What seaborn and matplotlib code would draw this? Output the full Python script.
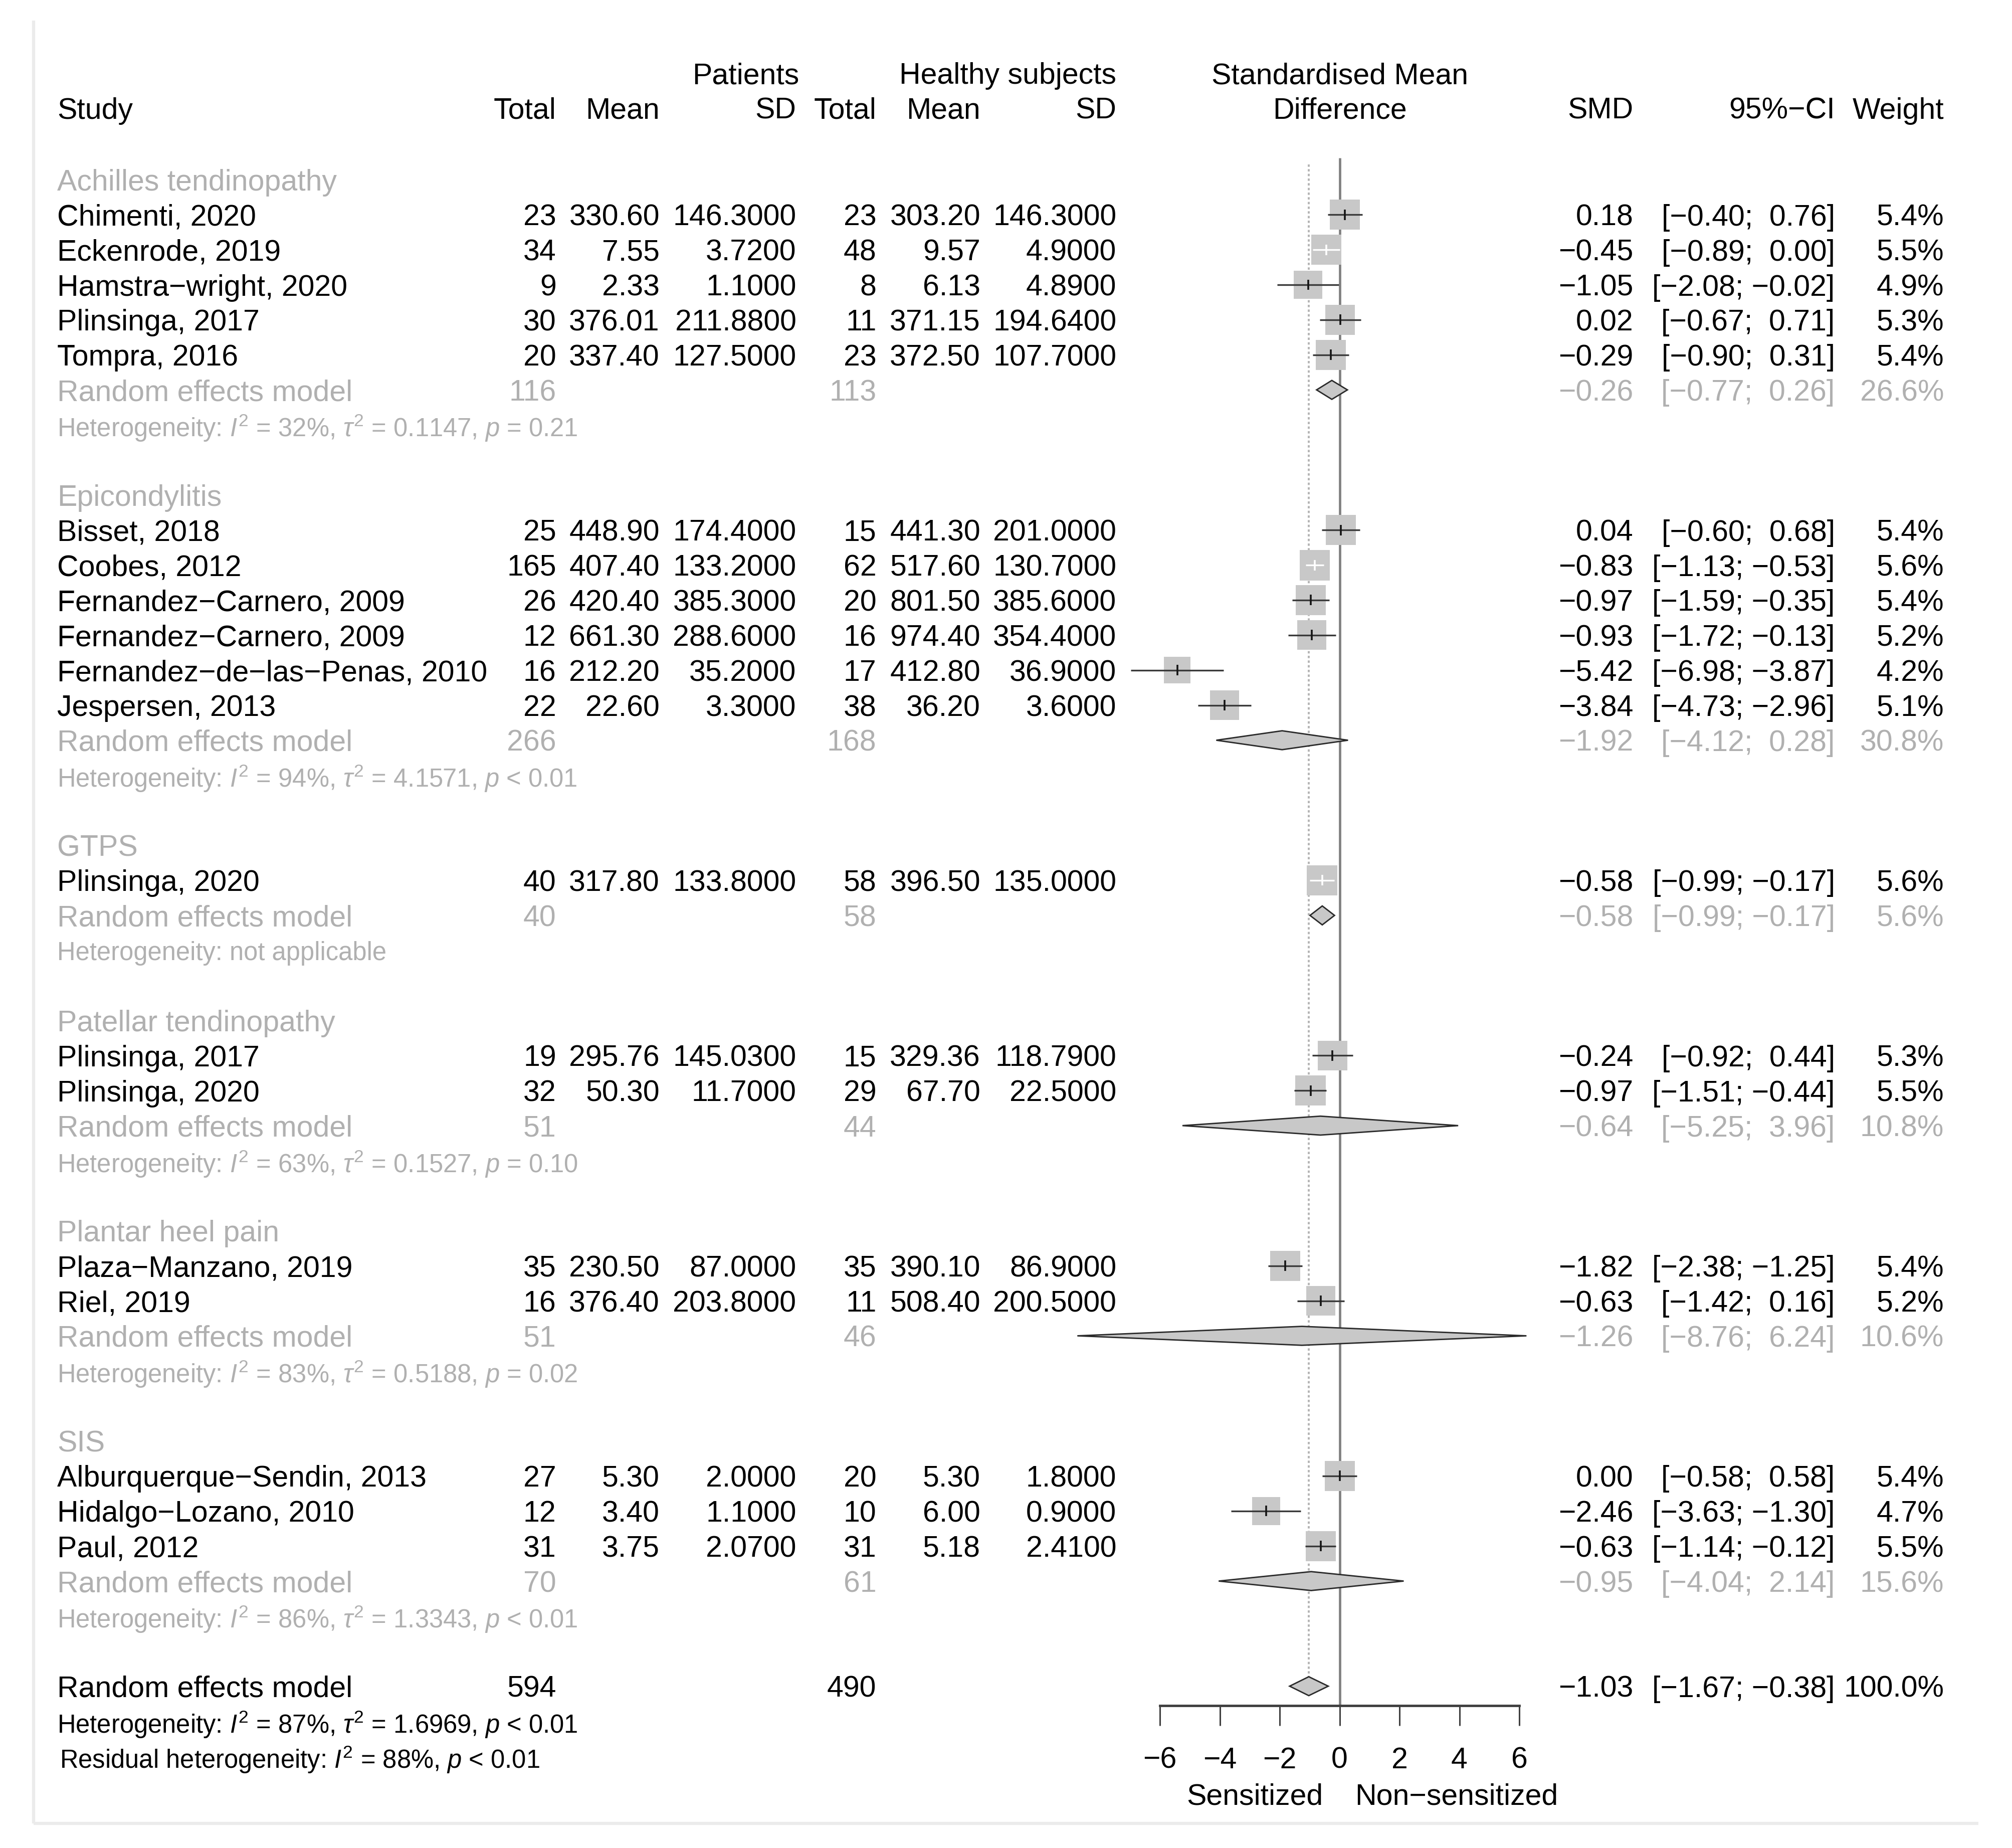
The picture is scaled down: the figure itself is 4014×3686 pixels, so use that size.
import numpy as np
import pandas as pd
import matplotlib.pyplot as plt
import seaborn as sns

# ---- data ----
groups = ["Achilles tendinopathy", "Epicondylitis", "GTPS",
          "Patellar tendinopathy", "Plantar heel pain", "SIS"]

study_group = [0, 0, 0, 0, 0, 1, 1, 1, 1, 1, 1, 2, 3, 3, 4, 4, 5, 5, 5]
study_names = ["Chimenti, 2020", "Eckenrode, 2019", "Hamstra\u2212wright, 2020",
               "Plinsinga, 2017", "Tompra, 2016",
               "Bisset, 2018", "Coobes, 2012", "Fernandez\u2212Carnero, 2009",
               "Fernandez\u2212Carnero, 2009", "Fernandez\u2212de\u2212las\u2212Penas, 2010",
               "Jespersen, 2013",
               "Plinsinga, 2020",
               "Plinsinga, 2017", "Plinsinga, 2020",
               "Plaza\u2212Manzano, 2019", "Riel, 2019",
               "Alburquerque\u2212Sendin, 2013", "Hidalgo\u2212Lozano, 2010", "Paul, 2012"]
pat_n = [23, 34, 9, 30, 20, 25, 165, 26, 12, 16, 22, 40, 19, 32, 35, 16, 27, 12, 31]
pat_mean = [330.60, 7.55, 2.33, 376.01, 337.40, 448.90, 407.40, 420.40, 661.30, 212.20,
            22.60, 317.80, 295.76, 50.30, 230.50, 376.40, 5.30, 3.40, 3.75]
pat_sd = [146.30, 3.72, 1.10, 211.88, 127.50, 174.40, 133.20, 385.30, 288.60, 35.20,
          3.30, 133.80, 145.03, 11.70, 87.00, 203.80, 2.00, 1.10, 2.07]
hs_n = [23, 48, 8, 11, 23, 15, 62, 20, 16, 17, 38, 58, 15, 29, 35, 11, 20, 10, 31]
hs_mean = [303.20, 9.57, 6.13, 371.15, 372.50, 441.30, 517.60, 801.50, 974.40, 412.80,
           36.20, 396.50, 329.36, 67.70, 390.10, 508.40, 5.30, 6.00, 5.18]
hs_sd = [146.30, 4.90, 4.89, 194.64, 107.70, 201.00, 130.70, 385.60, 354.40, 36.90,
         3.60, 135.00, 118.79, 22.50, 86.90, 200.50, 1.80, 0.90, 2.41]
smd = [0.18, -0.45, -1.05, 0.02, -0.29, 0.04, -0.83, -0.97, -0.93, -5.42, -3.84,
       -0.58, -0.24, -0.97, -1.82, -0.63, 0.00, -2.46, -0.63]
ci_lo = [-0.40, -0.89, -2.08, -0.67, -0.90, -0.60, -1.13, -1.59, -1.72, -6.98, -4.73,
         -0.99, -0.92, -1.51, -2.38, -1.42, -0.58, -3.63, -1.14]
ci_hi = [0.76, 0.00, -0.02, 0.71, 0.31, 0.68, -0.53, -0.35, -0.13, -3.87, -2.96,
         -0.17, 0.44, -0.44, -1.25, 0.16, 0.58, -1.30, -0.12]
weight = [5.4, 5.5, 4.9, 5.3, 5.4, 5.4, 5.6, 5.4, 5.2, 4.2, 5.1, 5.6, 5.3, 5.5, 5.4,
          5.2, 5.4, 4.7, 5.5]

sub_pat_n = [116, 266, 40, 51, 51, 70]
sub_hs_n = [113, 168, 58, 44, 46, 61]
sub_smd = [-0.26, -1.92, -0.58, -0.64, -1.26, -0.95]
sub_lo = [-0.77, -4.12, -0.99, -5.25, -8.76, -4.04]
sub_hi = [0.26, 0.28, -0.17, 3.96, 6.24, 2.14]
sub_w = [26.6, 30.8, 5.6, 10.8, 10.6, 15.6]
sub_i2 = ["32%", "94%", None, "63%", "83%", "86%"]
sub_tau2 = ["0.1147", "4.1571", None, "0.1527", "0.5188", "1.3343"]
sub_p = ["= 0.21", "< 0.01", None, "= 0.10", "= 0.02", "< 0.01"]

overall_n = [594, 490]
overall_est = [-1.03, -1.67, -0.38]
overall_w = 100.0
overall_het = ["87%", "1.6969", "< 0.01"]
resid_het = ["88%", "< 0.01"]

xticks = [-6, -4, -2, 0, 2, 4, 6]

# ---- style ----
sns.set_theme(style="white")
plt.rcParams["font.family"] = ["Liberation Sans", "DejaVu Sans"]
plt.rcParams["mathtext.fontset"] = "custom"
plt.rcParams["mathtext.rm"] = "Liberation Sans"
plt.rcParams["mathtext.it"] = "Liberation Sans:italic"
plt.rcParams["mathtext.bf"] = "Liberation Sans:bold"

FS = 42.5
FS_HET = 36.5
GREY = "#b0b0b0"
W, H = 1568, 1440          # layout grid
ROW0, ROWH = 140, 27.3


def ry(py):
    return (py - ROW0) / ROWH


def fmt(v, d=2):
    return f"{v:.{d}f}".replace("-", "\u2212")


def ci_str(lo, hi):
    gap = "  " if hi >= 0 else " "
    return f"[{fmt(lo)};{gap}{fmt(hi)}]"


def het_str(i2, tau2, p):
    return (r"Heterogeneity: $\mathit{I}^{2}$ = " + i2 + r", $\tau^{2}$ = " + tau2
            + r", $\mathit{p}$ " + p)


fig = plt.figure(figsize=(40.14, 36.86), dpi=100)
ax = fig.add_axes([0, 0, 1, 1])
ax.set_xlim(0, W)
ax.set_ylim(ry(H), ry(0))
ax.axis("off")

fx = fig.add_axes([904 / W, 0, 280 / W, 1])
fx.set_xlim(-6, 6)
fx.set_ylim(ry(H), ry(0))
fx.patch.set_visible(False)

# column positions (right edges, layout px)
X_STUDY = 44.5
X_PN, X_PM, X_PSD = 433.5, 514, 620.5
X_HN, X_HM, X_HSD = 683, 764, 870
X_SMD, X_CI, X_W = 1273, 1430, 1515


def t(x, r, s, ha="right", color="black", size=FS):
    ax.text(x, r, s, ha=ha, va="center_baseline", color=color, fontsize=size)


# header
t(623, ry(57), "Patients")
t(870, ry(57), "Healthy subjects")
t(1044, ry(57), "Standardised Mean", ha="center")
t(1044, ry(84), "Difference", ha="center")
t(X_STUDY, ry(84), "Study", ha="left")
for x, s in [(X_PN, "Total"), (X_PM, "Mean"), (X_PSD, "SD"), (X_HN, "Total"),
             (X_HM, "Mean"), (X_HSD, "SD"), (X_SMD, "SMD"), (X_CI, "95%\u2212CI"),
             (X_W, "Weight")]:
    t(x, ry(84), s)

# row layout
study_rows = []
sub_rows = []
r = 0
for g in range(len(groups)):
    idx = [i for i, gg in enumerate(study_group) if gg == g]
    t(X_STUDY, r, groups[g], ha="left", color=GREY)
    for k, i in enumerate(idx):
        study_rows.append(r + 1 + k)
    sr = r + 1 + len(idx)
    sub_rows.append(sr)
    t(X_STUDY, sr, "Random effects model", ha="left", color=GREY)
    t(X_PN, sr, str(sub_pat_n[g]), color=GREY)
    t(X_HN, sr, str(sub_hs_n[g]), color=GREY)
    t(X_SMD, sr, fmt(sub_smd[g]), color=GREY)
    t(X_CI, sr, ci_str(sub_lo[g], sub_hi[g]), color=GREY)
    t(X_W, sr, f"{sub_w[g]:.1f}%", color=GREY)
    if sub_i2[g] is None:
        t(X_STUDY, sr + 1, "Heterogeneity: not applicable", ha="left", color=GREY, size=FS_HET)
    else:
        t(X_STUDY, sr + 1, het_str(sub_i2[g], sub_tau2[g], sub_p[g]), ha="left",
          color=GREY, size=FS_HET)
    r = sr + 3
ov_row = r

for i, rr in enumerate(study_rows):
    t(X_STUDY, rr, study_names[i], ha="left")
    t(X_PN, rr, str(pat_n[i]))
    t(X_PM, rr, fmt(pat_mean[i]))
    t(X_PSD, rr, fmt(pat_sd[i], 4))
    t(X_HN, rr, str(hs_n[i]))
    t(X_HM, rr, fmt(hs_mean[i]))
    t(X_HSD, rr, fmt(hs_sd[i], 4))
    t(X_SMD, rr, fmt(smd[i]))
    t(X_CI, rr, ci_str(ci_lo[i], ci_hi[i]))
    t(X_W, rr, f"{weight[i]:.1f}%")

t(X_STUDY, ov_row, "Random effects model", ha="left")
t(X_PN, ov_row, str(overall_n[0]))
t(X_HN, ov_row, str(overall_n[1]))
t(X_SMD, ov_row, fmt(overall_est[0]))
t(X_CI, ov_row, ci_str(overall_est[1], overall_est[2]))
t(X_W, ov_row, f"{overall_w:.1f}%")
t(X_STUDY, ov_row + 1, het_str(*overall_het), ha="left", size=FS_HET)
t(X_STUDY + 2, ov_row + 2, r"Residual heterogeneity: $\mathit{I}^{2}$ = " + resid_het[0]
  + r", $\mathit{p}$ " + resid_het[1], ha="left", size=FS_HET)

t(1031, ry(1398), "Sensitized")
t(1056, ry(1398), "Non\u2212sensitized", ha="left")

# ---- forest panel ----
AXIS_ROW = ry(1329)
SQ = 1.02                     # drawn square side (SMD units) at the largest weight
SQ_RULE = 0.97                # CI drawn white when it fits inside this box
DH = 0.27                     # diamond half height (rows)
wmax, wmin = max(weight), min(weight)
ppu = fx.transData.transform((1, 0))[0] - fx.transData.transform((0, 0))[0]


def side_pt(w):
    return SQ * np.sqrt(w / wmax) * ppu * 72 / fig.dpi


df = pd.DataFrame({"smd": smd, "row": study_rows, "weight": weight})
sns.scatterplot(data=df, x="smd", y="row", size="weight",
                sizes=(side_pt(wmin) ** 2, side_pt(wmax) ** 2), size_norm=(wmin, wmax),
                marker="s", color="#c8c8c8", linewidth=0, legend=False, ax=fx,
                zorder=2, clip_on=False)

for i, rr in enumerate(study_rows):
    inside = (ci_hi[i] - ci_lo[i]) / 2 < SQ_RULE * np.sqrt(weight[i] / wmax) / 2
    c = "white" if inside else "#3a3a3a"
    fx.hlines(rr, ci_lo[i], ci_hi[i], color=c, lw=2.4, zorder=3, clip_on=False)
    fx.vlines(smd[i], rr - 0.15, rr + 0.15, color="white" if inside else "#151515",
              lw=2.6, zorder=4, clip_on=False)

for g, sr in enumerate(sub_rows):
    fx.fill([sub_lo[g], sub_smd[g], sub_hi[g], sub_smd[g]], [sr, sr - DH, sr, sr + DH],
            facecolor="#c8c8c8", edgecolor="#2a2a2a", lw=2.0, zorder=3, clip_on=False)
fx.fill([overall_est[1], overall_est[0], overall_est[2], overall_est[0]],
        [ov_row, ov_row - DH, ov_row, ov_row + DH],
        facecolor="#c8c8c8", edgecolor="#2a2a2a", lw=2.0, zorder=3, clip_on=False)

fx.vlines(0, ry(123), AXIS_ROW, color="#808080", lw=3.4, zorder=1, clip_on=False)
fx.vlines(overall_est[0], ry(128), ov_row - DH, color="#b4b4b4", lw=2.8,
          linestyles=(0, (1.2, 1.2)), zorder=1, clip_on=False)

fx.set_xlim(-6, 6)
fx.set_ylim(ry(H), ry(0))
fx.set_xlabel("")
fx.set_ylabel("")
for s in ["left", "top", "right"]:
    fx.spines[s].set_visible(False)
fx.spines["bottom"].set_position(("data", AXIS_ROW))
fx.spines["bottom"].set_bounds(-6, 6)
fx.spines["bottom"].set_color("#404040")
fx.spines["bottom"].set_linewidth(3.5)
fx.set_xticks(xticks)
fx.set_xticklabels([fmt(v, 0) for v in xticks])
fx.set_yticks([])
fx.tick_params(axis="x", direction="out", length=29, width=2.2, color="#404040",
               pad=30, labelsize=FS, labelcolor="black", bottom=True)

# light frame of the original panel
ax.plot([26, 26], [ry(16), ry(1421)], color="#ebebeb", lw=4.5, solid_capstyle="butt")
ax.plot([26, 1542], [ry(1421), ry(1421)], color="#ebebeb", lw=4.5, solid_capstyle="butt")

fig.savefig("out.png", dpi=100)
